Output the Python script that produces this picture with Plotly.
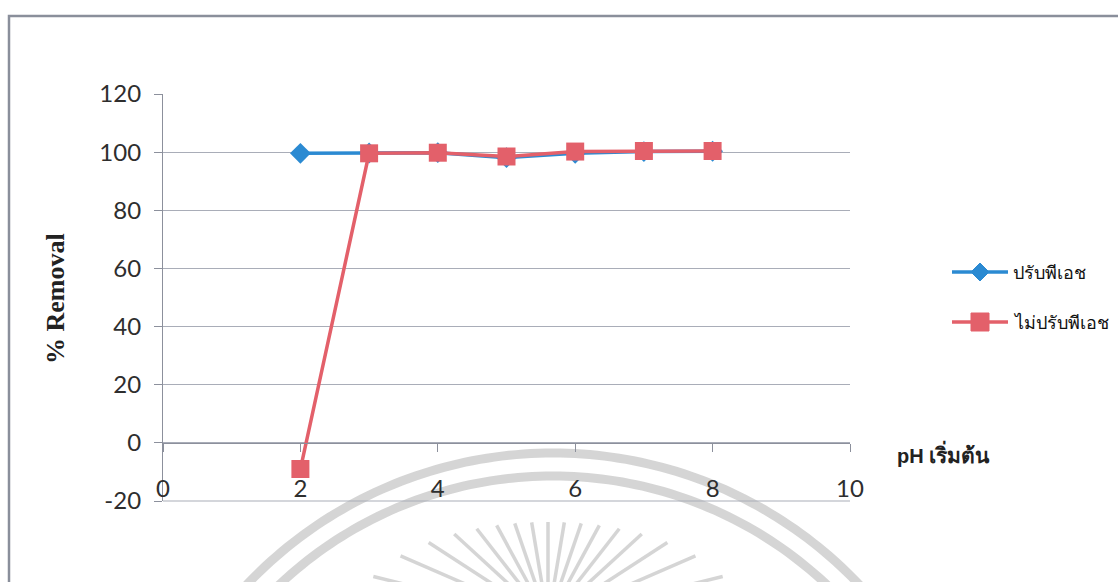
import math
import plotly.graph_objects as go

# pH values and removal efficiency (%)
ph = [2, 3, 4, 5, 6, 7, 8]
removal_adjusted = [99.6, 99.7, 99.8, 98.1, 99.6, 100.2, 100.3]
removal_unadjusted = [-9.0, 99.6, 99.8, 98.5, 100.2, 100.4, 100.4]

series_names = ["ปรับพีเอช", "ไม่ปรับพีเอช"]
y_ticks = [-20, 0, 20, 40, 60, 80, 100, 120]
y_ticktext = ["-20", "0", "20", "40", "60", "80", "100", "120"]
x_ticks = [0, 2, 4, 6, 8, 10]
y_min, y_max = -20, 120

W, H = 1118, 582
L, R, T, B = 163, 850, 94, 501  # plot area in pixels
pw, ph_px = R - L, B - T


def px(x):
    return (x - L) / pw


def py(y):
    return (B - y) / ph_px


BLUE = "#2b8ad2"
RED = "#e3606a"
GRID = "#a9adb8"
AXIS = "#8c909c"
TEXT = "#2e2e2e"
THAI_FONT = "Noto Sans, sans-serif"

fig = go.Figure()
fig.add_trace(go.Scatter(
    x=ph, y=removal_adjusted, name=series_names[0], mode="lines+markers",
    line=dict(color=BLUE, width=3.5),
    marker=dict(symbol="diamond", size=16, color=BLUE),
    showlegend=False,
))
fig.add_trace(go.Scatter(
    x=ph, y=removal_unadjusted, name=series_names[1], mode="lines+markers",
    line=dict(color=RED, width=3.5),
    marker=dict(symbol="square", size=18, color=RED),
    showlegend=False,
))

shapes = []
annotations = []

# faint seal watermark behind the chart
WM = "rgba(195,195,195,0.7)"
cx, cy = 553, 875
for r in (422, 399):
    pts = []
    for i in range(0, 181):
        a = math.radians(180 - i)
        x = cx + r * math.cos(a)
        y = cy - r * math.sin(a)
        pts.append(f"{px(x):.5f},{py(y):.5f}")
    shapes.append(dict(type="path", xref="paper", yref="paper",
                       path="M " + " L ".join(pts),
                       line=dict(color=WM, width=9), layer="below"))
fx, fy, ea, eb = 548, 620, 195, 98
for k in range(-8, 9):
    ang = math.radians(90 + k * 9.5)
    c, s = math.cos(ang), math.sin(ang)
    rr = 1.0 / math.sqrt((c / ea) ** 2 + (s / eb) ** 2)
    x0, y0 = fx + rr * c, fy - rr * s
    x1, y1 = fx + 0.2 * rr * c, fy - 0.2 * rr * s
    shapes.append(dict(type="line", xref="paper", yref="paper",
                       x0=px(x0), y0=py(y0), x1=px(x1), y1=py(y1),
                       line=dict(color=WM, width=3.5), layer="below"))

# bottom gridline along the lower edge of the plot area
shapes.append(dict(type="line", xref="paper", yref="paper", x0=0, x1=1,
                   y0=0, y1=0, line=dict(color=GRID, width=1.2), layer="above"))

# outer chart frame
shapes.append(dict(type="path", xref="paper", yref="paper",
                   path=f"M {px(1200)},{py(16)} L {px(9)},{py(16)} L {px(9)},{py(640)}",
                   line=dict(color="#8a8f9b", width=2.5)))

# legend: long line sample with the marker centred on it, label to the right
legend_rows = [
    (series_names[0], BLUE, "diamond", 272),
    (series_names[1], RED, "square", 322),
]
for name, color, symbol, yy in legend_rows:
    shapes.append(dict(type="line", xref="paper", yref="paper",
                       x0=px(952), x1=px(1008), y0=py(yy), y1=py(yy),
                       line=dict(color=color, width=3.5)))
    mx, d = 980, 9
    if symbol == "diamond":
        path = (f"M {px(mx - d)},{py(yy)} L {px(mx)},{py(yy - d)} "
                f"L {px(mx + d)},{py(yy)} L {px(mx)},{py(yy + d)} Z")
        shapes.append(dict(type="path", xref="paper", yref="paper", path=path,
                           fillcolor=color, line=dict(color=color, width=1)))
    else:
        shapes.append(dict(type="rect", xref="paper", yref="paper",
                           x0=px(mx - d), x1=px(mx + d), y0=py(yy - d), y1=py(yy + d),
                           fillcolor=color, line=dict(color=color, width=1)))
    annotations.append(dict(text=name, xref="paper", yref="paper",
                            x=px(1011), y=py(yy), xanchor="left", yanchor="middle",
                            showarrow=False,
                            font=dict(family=THAI_FONT, size=18, color="#111")))

annotations += [
    dict(text="<b>% Removal</b>", xref="paper", yref="paper",
         x=px(55), y=py(299), textangle=-90, showarrow=False,
         font=dict(family="Liberation Serif, serif", size=26, color="#222"),
         xanchor="center", yanchor="middle"),
    dict(text="<b>pH <span style='font-size:21px'>เริ่มต้น</span></b>",
         xref="paper", yref="paper", x=px(895), y=py(453),
         xanchor="left", yanchor="middle", showarrow=False,
         font=dict(family="Liberation Sans, Arial, sans-serif", size=20, color="#222")),
]

fig.update_layout(
    width=W, height=H,
    margin=dict(l=L, r=W - R, t=T, b=H - B),
    paper_bgcolor="white", plot_bgcolor="rgba(0,0,0,0)",
    font=dict(family="Lato, Noto Sans, sans-serif", color=TEXT),
    showlegend=False,
    shapes=shapes,
    annotations=annotations,
)

fig.update_yaxes(
    range=[y_min, y_max], tickvals=y_ticks, ticktext=y_ticktext,
    showgrid=True, gridcolor=GRID, gridwidth=1,
    showline=True, linecolor=AXIS, linewidth=1.2, ticks="outside", ticklen=8,
    tickcolor=AXIS, zeroline=False, ticklabelstandoff=8,
    tickfont=dict(size=24, color=TEXT),
)
fig.update_xaxes(
    range=[0, 10], tickvals=x_ticks, showgrid=False, zeroline=False,
    anchor="free", position=-y_min / (y_max - y_min), showline=True,
    linecolor=AXIS, linewidth=1.2,
    ticks="outside", ticklen=8, tickcolor=AXIS, ticklabelstandoff=16,
    tickfont=dict(size=24, color=TEXT),
)

fig.write_html("out.html")
